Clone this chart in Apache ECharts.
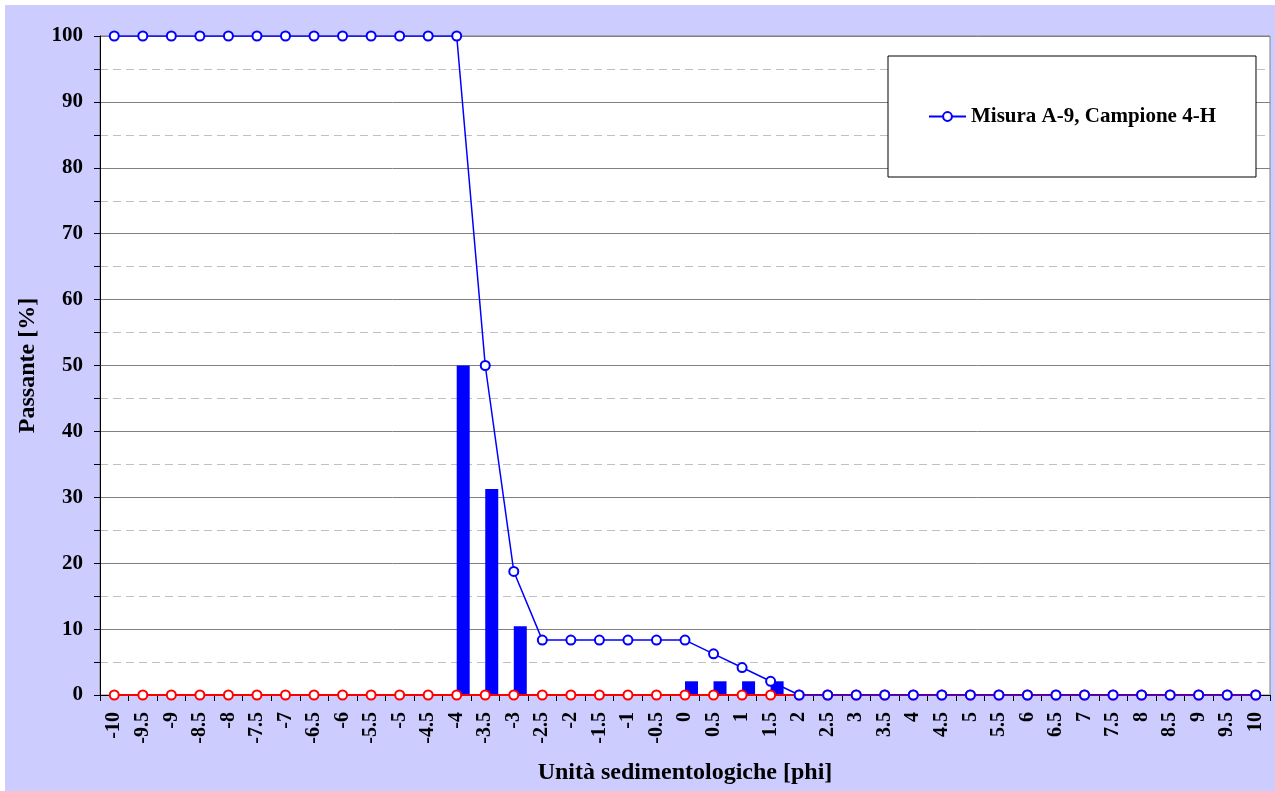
<!DOCTYPE html>
<html>
<head>
<meta charset="utf-8">
<title>Passante</title>
<script src="https://cdn.jsdelivr.net/npm/echarts@6/dist/echarts.min.js"></script>
<style>
  html, body { margin: 0; padding: 0; background: #fff; }
  #wrap { position: relative; width: 1275px; height: 791px; background: #fff; }
  #chart { position: absolute; left: 5px; top: 5px; width: 1270px; height: 786px; }
</style>
</head>
<body>
<div id="wrap"><div id="chart"></div></div>
<script>
// phi classes, -10 .. 10
const phi = ['-10', '-9.5', '-9', '-8.5', '-8', '-7.5', '-7', '-6.5', '-6', '-5.5', '-5', '-4.5', '-4',
  '-3.5', '-3', '-2.5', '-2', '-1.5', '-1', '-0.5', '0', '0.5', '1', '1.5', '2', '2.5', '3', '3.5',
  '4', '4.5', '5', '5.5', '6', '6.5', '7', '7.5', '8', '8.5', '9', '9.5', '10']

// cumulative passing [%]
const passante = [100, 100, 100, 100, 100, 100, 100, 100, 100, 100, 100, 100, 100,
  50, 18.75, 8.33, 8.33, 8.33, 8.33, 8.33, 8.33, 6.25, 4.17, 2.08, 0, 0, 0, 0,
  0, 0, 0, 0, 0, 0, 0, 0, 0, 0, 0, 0, 0]

// retained per class [%]
const trattenuto = [0, 0, 0, 0, 0, 0, 0, 0, 0, 0, 0, 0, 50,
  31.25, 10.42, 0, 0, 0, 0, 0, 2.08, 2.08, 2.08, 2.08, 0, 0, 0, 0,
  0, 0, 0, 0, 0, 0, 0, 0, 0, 0, 0, 0, 0]

// reference line at zero
const zero = [0, 0, 0, 0, 0, 0, 0, 0, 0, 0, 0, 0, 0,
  0, 0, 0, 0, 0, 0, 0, 0, 0, 0, 0, 0, 0, 0, 0,
  0, 0, 0, 0, 0, 0, 0, 0, 0, 0, 0, 0, 0]

const legendName = 'Misura A-9, Campione 4-H'
const font = 'Liberation Serif'

const chart = echarts.init(document.getElementById('chart'))
chart.setOption({
  animation: false,
  backgroundColor: '#ccccff',
  textStyle: { fontFamily: font },
  grid: {
    left: 95, top: 31, right: 5, bottom: 96,
    outerBoundsMode: 'none',
    containLabel: false,
    show: true, backgroundColor: '#fff', borderColor: '#808080', borderWidth: 1,
  },
  legend: {
    data: [legendName],
    left: 883, top: 51,
    padding: [48, 40],
    backgroundColor: '#fff',
    borderColor: '#000',
    borderWidth: 1,
    itemWidth: 37,
    itemHeight: 11,
    selectedMode: false,
    textStyle: { fontFamily: font, fontWeight: 'bold', fontSize: 21, color: '#000', lineHeight: 25 },
  },
  xAxis: {
    type: 'category',
    data: phi,
    boundaryGap: true,
    name: 'Unità sedimentologiche [phi]',
    nameLocation: 'middle',
    nameGap: 66,
    nameTextStyle: { fontFamily: font, fontWeight: 'bold', fontSize: 24, color: '#000' },
    axisLine: { lineStyle: { color: '#000', width: 1 } },
    axisTick: { show: true, interval: 0, length: 6, lineStyle: { color: '#000' } },
    axisLabel: {
      interval: 0, rotate: 90, margin: 17,
      fontFamily: font, fontWeight: 'bold', fontSize: 20, color: '#000',
    },
    splitLine: { show: false },
  },
  yAxis: {
    type: 'value',
    min: 0, max: 100, interval: 10,
    name: 'Passante [%]',
    nameLocation: 'middle',
    nameGap: 60,
    nameTextStyle: { fontFamily: font, fontWeight: 'bold', fontSize: 24, color: '#000' },
    axisLine: { show: true, lineStyle: { color: '#000', width: 1 } },
    axisTick: { show: true, length: 6, lineStyle: { color: '#000' } },
    minorTick: { show: true, splitNumber: 2, length: 6, lineStyle: { color: '#000' } },
    axisLabel: { margin: 17, fontFamily: font, fontWeight: 'bold', fontSize: 21, color: '#000' },
    splitLine: { show: true, lineStyle: { color: '#808080', width: 1 } },
    minorSplitLine: { show: true, lineStyle: { color: '#c0c0c0', type: [8, 5], width: 1 } },
  },
  series: [
    {
      // empty slot so the real bar sits right of the category centre
      name: 'vuoto', type: 'bar', data: [], barWidth: 13, barGap: '0%', silent: true,
    },
    {
      name: 'Trattenuto', type: 'bar', data: trattenuto, barWidth: 13, barGap: '0%',
      itemStyle: { color: '#0000ff' }, silent: true, z: 2,
    },
    {
      name: 'Zero', type: 'line', data: zero, z: 3,
      symbol: 'circle', symbolSize: 9, showAllSymbol: true,
      lineStyle: { color: '#ff0000', width: 2 },
      itemStyle: { color: '#fff', borderColor: '#ff0000', borderWidth: 2 },
      emphasis: { disabled: true }, silent: true,
    },
    {
      name: legendName, type: 'line', data: passante, z: 4,
      symbol: 'circle', symbolSize: 9, showAllSymbol: true,
      lineStyle: { color: '#0000ff', width: 1.5 },
      itemStyle: { color: '#fff', borderColor: '#0000ff', borderWidth: 2 },
      emphasis: { disabled: true }, silent: true,
    },
  ],
})
</script>
</body>
</html>
